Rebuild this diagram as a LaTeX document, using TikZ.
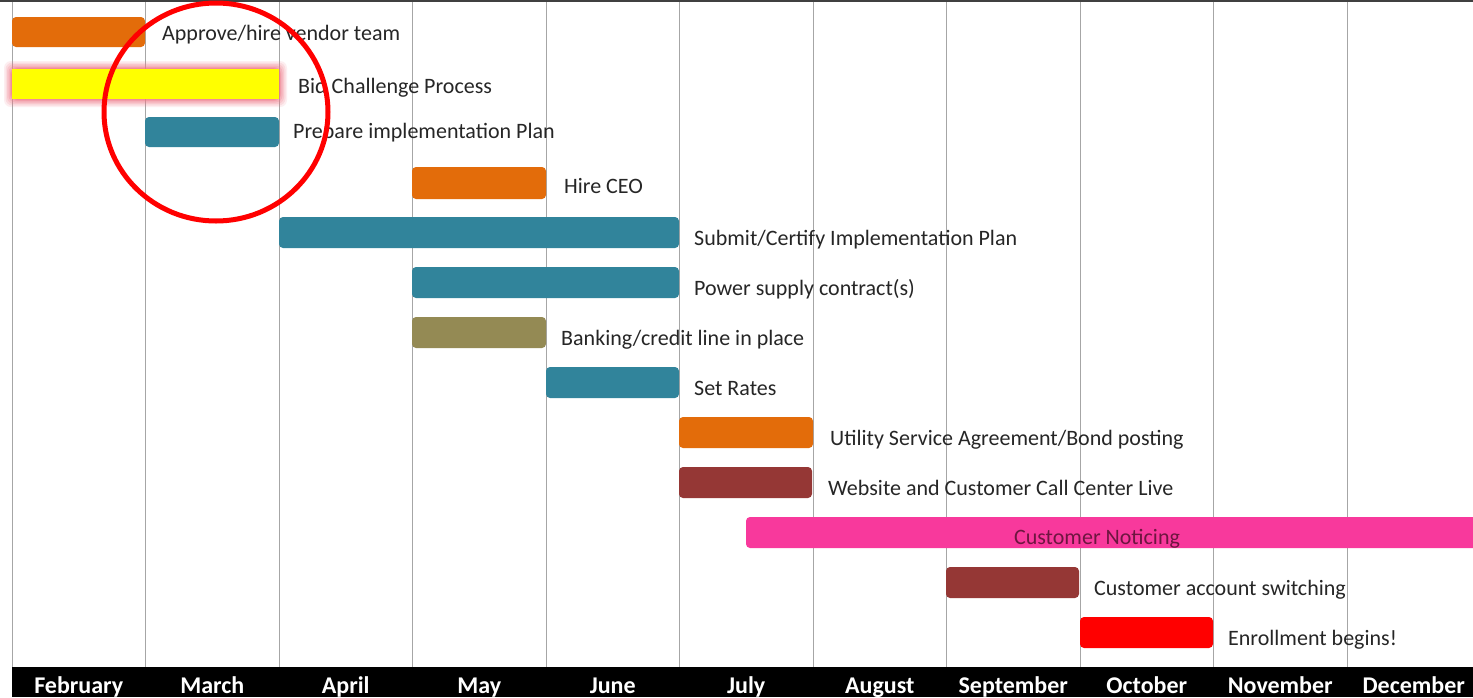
\documentclass[tikz,border=0pt]{standalone}
\usepackage{fontspec}
\setmainfont{Carlito}
\definecolor{gOrange}{HTML}{E36C0A}
\definecolor{gYellow}{HTML}{FFFF00}
\definecolor{gTeal}{HTML}{31849B}
\definecolor{gOlive}{HTML}{948A54}
\definecolor{gMaroon}{HTML}{953735}
\definecolor{gPink}{HTML}{F8399C}
\definecolor{gRed}{HTML}{FF0000}
\definecolor{gGrid}{HTML}{A6A6A6}
\definecolor{gNoticeTxt}{HTML}{6E1640}
\definecolor{gGlow}{HTML}{F07888}
\tikzset{
  bar/.style={rounded corners=4pt, draw=none},
  lbl/.style={anchor=base west, inner sep=0pt, font=\fontsize{22}{26}\selectfont, text=black!85},
  month/.style={anchor=base, font=\fontsize{24}{28}\selectfont\bfseries, text=white, inner sep=0pt},
  gridline/.style={draw=gGrid, line width=1pt}
}
\begin{document}
\begin{tikzpicture}[x=1pt,y=-1pt]
\useasboundingbox (0,0) rectangle (1473,697);
\fill[white] (0,0) rectangle (1473,697);
% grid
\foreach \i in {0,...,10}{
  \draw[gridline] ({12+133.5*\i},0) -- ({12+133.5*\i},667);
}
\draw[black!75, line width=2pt] (0,1) -- (1473,1);
% bottom axis
\fill[black] (12,667) rectangle (1473,697);
\foreach \m [count=\i from 0] in {February,March,April,May,June,July,August,September,October,November,December}{
  \node[month] (m\i) at ({78.75+133.5*\i},693) {\m};
}
% row 1
\fill[bar, gOrange] (12,17) rectangle (145,47);
\node[lbl] (t1) at (162,40) {Approve/hire vendor team};
% row 2 with glow
\foreach \g/\o in {8/0.12,6.5/0.16,5/0.2,3.5/0.26,2/0.34,1/0.45}{
  \fill[gGlow, opacity=\o, rounded corners=7pt] ({12-\g},{69-\g}) rectangle ({279+\g},{99+\g});
}
\fill[gYellow] (12,69) rectangle (279,99);
\node[lbl] (t2) at (298,93) {Bid Challenge Process};
% row 3
\fill[bar, gTeal] (145,117) rectangle (279,147);
\node[lbl] (t3) at (293,138) {Prepare implementation Plan};
% row 4
\fill[bar, gOrange] (412,167) rectangle (546,199);
\node[lbl] (t4) at (564,193) {Hire CEO};
% row 5
\fill[bar, gTeal] (279,217) rectangle (679,248);
\node[lbl] (t5) at (694,245) {Submit/Certify Implementation Plan};
% row 6
\fill[bar, gTeal] (412,267) rectangle (679,298);
\node[lbl] (t6) at (694,295) {Power supply contract(s)};
% row 7
\fill[bar, gOlive] (412,317) rectangle (546,348);
\node[lbl] (t7) at (561,345) {Banking/credit line in place};
% row 8
\fill[bar, gTeal] (546,367) rectangle (679,398);
\node[lbl] (t8) at (694,395) {Set Rates};
% row 9
\fill[bar, gOrange] (679,417) rectangle (813,448);
\node[lbl] (t9) at (830,445) {Utility Service Agreement/Bond posting};
% row 10
\fill[bar, gMaroon] (679,467) rectangle (812,498);
\node[lbl] (t10) at (828,495) {Website and Customer Call Center Live};
% row 11
\fill[bar, gPink] (746,517) rectangle (1490,548);
\node[lbl, anchor=base, text=gNoticeTxt] (t11) at (1097,544) {Customer Noticing};
% row 12
\fill[bar, gMaroon] (946,567) rectangle (1079,598);
\node[lbl] (t12) at (1094,595) {Customer account switching};
% row 13
\fill[bar, gRed] (1080,617) rectangle (1213,648);
\node[lbl] (t13) at (1228,645) {Enrollment begins!};
% red circle
\draw[gRed, line width=5pt] (216,112) ellipse (112pt and 109pt);
\end{tikzpicture}
\end{document}
